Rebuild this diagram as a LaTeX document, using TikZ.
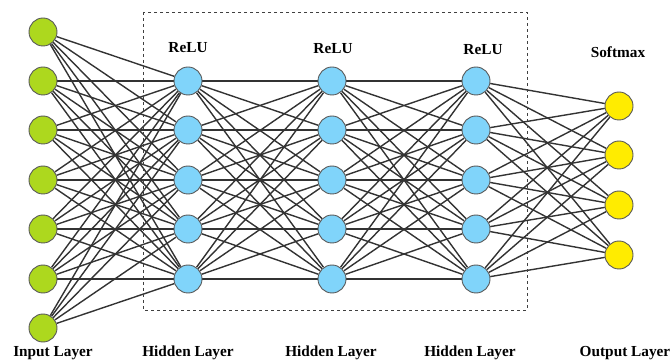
\documentclass[tikz,border=0pt]{standalone}
\usepackage{fontspec}
\setmainfont{Liberation Serif}
\usetikzlibrary{backgrounds}
\begin{document}
\begin{tikzpicture}[x=1pt,y=-1pt,
  neuron/.style={circle,draw=black!65,line width=0.9pt,minimum size=28pt,inner sep=0pt},
  inp/.style={neuron,fill=inputgreen},
  hid/.style={neuron,fill=hiddenblue},
  outp/.style={neuron,fill=outyellow},
  conn/.style={draw=black!80,line width=1.4pt},
  lbl/.style={font=\fontsize{15.3}{17}\selectfont\bfseries,inner sep=0pt}]
\definecolor{inputgreen}{RGB}{173,216,30}
\definecolor{hiddenblue}{RGB}{128,212,250}
\definecolor{outyellow}{RGB}{255,236,0}
\useasboundingbox (0,0) rectangle (672,363);
% nodes
\foreach \i/\y in {1/32,2/81,3/130,4/180,5/229,6/279,7/328}
  \node[inp] (i\i) at (43,\y) {};
\foreach \l/\x in {a/188,b/332,c/476}
  \foreach \i/\y in {1/81,2/130,3/180,4/229,5/279}
    \node[hid] (\l\i) at (\x,\y) {};
\foreach \i/\y in {1/106,2/155,3/205,4/255}
  \node[outp] (o\i) at (619,\y) {};
% connections behind nodes
\begin{scope}[on background layer]
\foreach \i in {1,...,7}
  \foreach \j in {1,...,5}
    \draw[conn] (i\i) -- (a\j);
\foreach \i in {1,...,5}
  \foreach \j in {1,...,5}
  {\draw[conn] (a\i) -- (b\j);
   \draw[conn] (b\i) -- (c\j);}
\foreach \i in {1,...,5}
  \foreach \j in {1,...,4}
    \draw[conn] (c\i) -- (o\j);
% dashed box
\coordinate (bx1) at (143,12);
\coordinate (bx2) at (527,310);
\draw[dashed,black!75,line width=0.8pt] (bx1) rectangle (bx2);
\end{scope}
% labels
\node[lbl] (r1) at (188,48) {ReLU};
\node[lbl] (r2) at (333,49) {ReLU};
\node[lbl] (r3) at (483,50) {ReLU};
\node[lbl] (sm) at (618,52) {Softmax};
\node[lbl] (li) at (53,353) {Input Layer};
\node[lbl] (lh1) at (188,353) {Hidden Layer};
\node[lbl] (lh2) at (331,353) {Hidden Layer};
\node[lbl] (lh3) at (470,353) {Hidden Layer};
\node[lbl] (lo) at (625,353) {Output Layer};
\end{tikzpicture}
\end{document}
